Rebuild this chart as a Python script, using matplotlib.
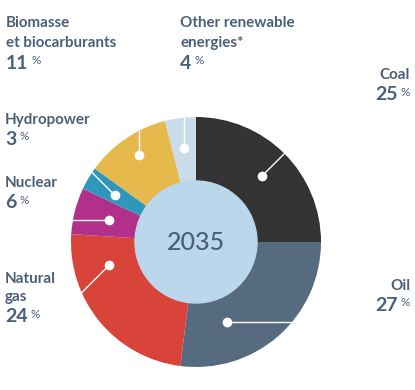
import matplotlib.pyplot as plt
import numpy as np

plt.rcParams['font.family'] = ['Lato', 'DejaVu Sans']

# data
names = ['Coal', 'Oil', 'Natural gas', 'Nuclear', 'Hydropower',
         'Biomasse et biocarburants', 'Other renewable energies*']
shares = [25, 27, 24, 6, 3, 11, 4]
year = '2035'

colors = ['#333333', '#566b80', '#d8433a', '#b0308a', '#2f97bb', '#e5b94b', '#c8dde9']
txt = '#4a6079'

W, H = 415, 390
cx, cy = 196, H - 242
R, r_in = 125, 61

fig = plt.figure(figsize=(W / 100, H / 100), dpi=100)
ax = fig.add_axes([0, 0, 1, 1])

ax.pie(shares, colors=colors, startangle=90, counterclock=False,
       radius=R, center=(cx, cy), wedgeprops=dict(linewidth=0))
ax.add_patch(plt.Circle((cx, cy), r_in, color='#bbd7ec', zorder=3))
ax.text(cx, cy - 1, year, ha='center', va='center', fontsize=18,
        fontweight='medium', color=txt, zorder=4)

# dots + leader lines (angle clockwise from top, radius, leader direction)
dot_theta = [45, 159, 255, 284, 300, 327, 353]
dot_r = [93, 86, 90, 90, 94, 104, 95]
lead_dir = [45, 0, 225, 180, 135, 90, 90]
for th, rr, dd in zip(dot_theta, dot_r, lead_dir):
    t = np.radians(th)
    p = np.array([cx + rr * np.sin(t), cy + rr * np.cos(t)])
    d = np.array([np.cos(np.radians(dd)), np.sin(np.radians(dd))])
    q = p - np.array([cx, cy])
    b = np.dot(q, d)
    s = -b + np.sqrt(b * b - (np.dot(q, q) - R * R))
    e = p + s * d
    ax.plot([p[0], e[0]], [p[1], e[1]], color='white', lw=1, zorder=5)
    ax.plot(p[0], p[1], 'o', ms=7, color='white', mec='none', zorder=6)

ax.set_xlim(0, W)
ax.set_ylim(0, H)
ax.set_aspect('equal')
ax.axis('off')

# labels: (lines, x, ha, line baselines, value baseline)
labels = [
    (['Coal'], 410, 'right', [79], 100),
    (['Oil'], 410, 'right', [290], 311),
    (['Natural', 'gas'], 5, 'left', [283, 301], 322),
    (['Nuclear'], 5, 'left', [187], 208),
    (['Hydropower'], 5, 'left', [124], 145),
    (['Biomasse', 'et biocarburants'], 6, 'left', [27, 47], 69),
    (['Other renewable', 'energies*'], 180, 'left', [27, 47], 69),
]

fig.canvas.draw()
rend = fig.canvas.get_renderer()
inv = ax.transData.inverted()

for (lines, x, ha, bases, vb), val in zip(labels, shares):
    for ln, b in zip(lines, bases):
        ax.text(x, H - b, ln, ha=ha, va='baseline', fontsize=10.9,
                fontweight='bold', color=txt)
    if ha == 'left':
        num = ax.text(x, H - vb, str(val), ha='left', va='baseline',
                      fontsize=14, fontweight='bold', color=txt)
        x1 = inv.transform(num.get_window_extent(rend))[1][0]
        ax.text(x1 + 3, H - vb + 4.5, '%', ha='left', va='baseline',
                fontsize=8.5, color=txt)
    else:
        pc = ax.text(x, H - vb + 4.5, '%', ha='right', va='baseline',
                     fontsize=8.5, color=txt)
        x0 = inv.transform(pc.get_window_extent(rend))[0][0]
        ax.text(x0 - 3, H - vb, str(val), ha='right', va='baseline',
                fontsize=14, fontweight='bold', color=txt)

fig.savefig('out.png', dpi=100)
